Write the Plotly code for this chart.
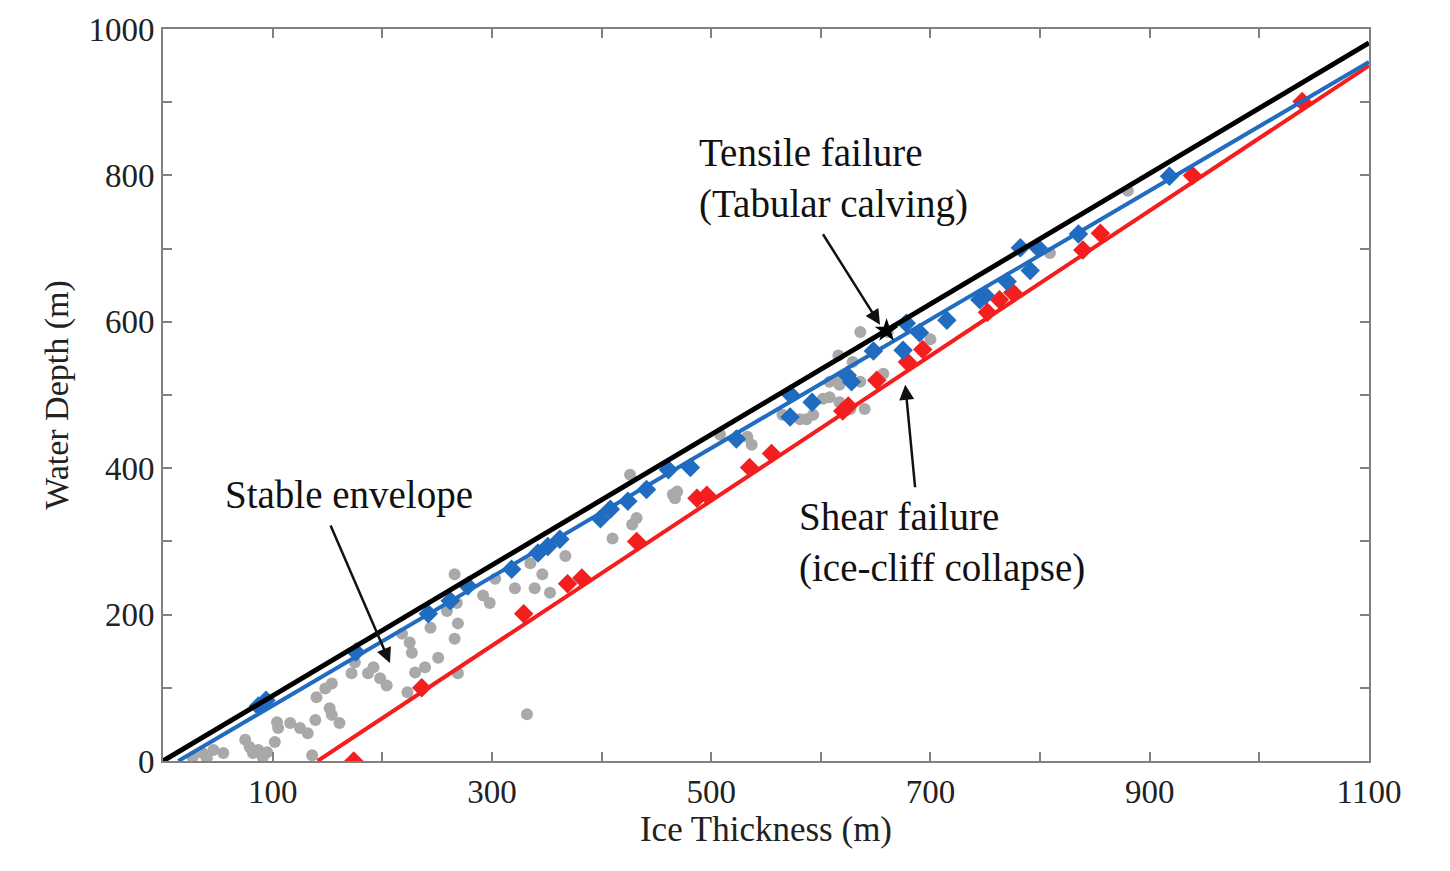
import plotly.graph_objects as go

# ---- data ----
black_x = [0, 1100]
black_y = [0, 981]

blue_line_x = [14, 1100]
blue_line_y = [0, 955]

red_line_x = [141, 1100]
red_line_y = [0, 950]

blue_x = [87, 94, 176, 242, 262, 278, 318, 342, 351, 362, 399, 408, 424, 441, 461, 481,
          523, 572, 572, 592, 624, 628, 648, 678, 675, 690, 715, 750, 745, 782, 798, 791,
          770, 835, 918]
blue_y = [75, 83, 149, 201, 219, 239, 262, 284, 293, 303, 331, 344, 355, 371, 398, 401,
          440, 501, 470, 490, 527, 518, 560, 598, 561, 585, 602, 636, 630, 701, 701, 670,
          655, 720, 799]

red_x = [174, 236, 329, 369, 382, 432, 487, 496, 535, 555, 620, 625, 651, 679, 693, 752,
         763, 775, 839, 855, 939, 1039]
red_y = [0, 100, 201, 242, 250, 300, 359, 363, 401, 420, 478, 485, 520, 545, 562, 613,
         630, 640, 698, 721, 800, 901]

gray_x = [266, 268, 259, 269, 244, 266, 218, 225, 227, 251, 239, 230, 269, 175, 192, 187,
          172, 198, 204, 223, 154, 148, 140, 152, 154, 161, 139, 104, 116, 105, 125, 132,
          75, 102, 79, 87, 95, 82, 55, 46, 36, 40, 136, 27, 91,
          303, 292, 298, 321, 339, 353, 346, 335, 367, 410, 428, 432, 465, 426, 332,
          469, 467, 537, 533, 581, 593, 565, 602, 608, 608, 617, 616, 617, 508,
          636, 629, 657, 587, 627, 640, 617, 636, 809, 880, 700, 661]
gray_y = [255, 216, 205, 188, 182, 167, 174, 162, 148, 141, 128, 121, 120, 135, 128, 120,
          120, 113, 103, 94, 106, 99, 87, 72, 63, 52, 56, 53, 52, 45, 45, 38,
          29, 26, 19, 15, 12, 11, 11, 15, 11, 4, 8, 5, 5,
          249, 226, 216, 236, 236, 230, 255, 270, 280, 304, 323, 332, 364, 391, 64,
          368, 359, 432, 443, 467, 473, 473, 495, 497, 518, 490, 554, 520, 446,
          586, 545, 529, 467, 481, 481, 514, 518, 694, 779, 576, 586]

star_x = [660]
star_y = [588]

x_tickvals = [0, 100, 200, 300, 400, 500, 600, 700, 800, 900, 1000, 1100]
x_ticktext = ["", "100", "", "300", "", "500", "", "700", "", "900", "", "1100"]
y_tickvals = [0, 100, 200, 300, 400, 500, 600, 700, 800, 900, 1000]
y_ticktext = ["0", "", "200", "", "400", "", "600", "", "800", "", "1000"]

FONT = "Liberation Serif"
BLUE = "#1f6cc0"
RED = "#f41e1e"

fig = go.Figure()

fig.add_trace(go.Scatter(x=gray_x, y=gray_y, mode="markers",
                         marker=dict(color="#a9a9a9", size=12), showlegend=False))
fig.add_trace(go.Scatter(x=red_line_x, y=red_line_y, mode="lines",
                         line=dict(color=RED, width=4), showlegend=False))
fig.add_trace(go.Scatter(x=red_x, y=red_y, mode="markers",
                         marker=dict(color=RED, size=15, symbol="diamond"), showlegend=False))
fig.add_trace(go.Scatter(x=blue_line_x, y=blue_line_y, mode="lines",
                         line=dict(color=BLUE, width=4), showlegend=False))
fig.add_trace(go.Scatter(x=blue_x, y=blue_y, mode="markers",
                         marker=dict(color=BLUE, size=15, symbol="diamond"), showlegend=False))
fig.add_trace(go.Scatter(x=black_x, y=black_y, mode="lines",
                         line=dict(color="black", width=5), showlegend=False))
fig.add_trace(go.Scatter(x=star_x, y=star_y, mode="markers",
                         marker=dict(color="black", size=18, symbol="star"), showlegend=False))

text_font = dict(family=FONT, size=39, color="#111")
fig.add_annotation(x=487, y=796, xref="x", yref="y", text="Tensile failure<br>(Tabular calving)",
                   showarrow=False, xanchor="left", yanchor="middle", align="left", font=text_font)
fig.add_annotation(x=55, y=363, xref="x", yref="y", text="Stable envelope",
                   showarrow=False, xanchor="left", yanchor="middle", align="left", font=text_font)
fig.add_annotation(x=578, y=299, xref="x", yref="y", text="Shear failure<br>(ice-cliff collapse)",
                   showarrow=False, xanchor="left", yanchor="middle", align="left", font=text_font)

arrow_kw = dict(xref="x", yref="y", text="", showarrow=True, arrowhead=2, arrowsize=1.2,
                arrowwidth=2.5, arrowcolor="#111")
fig.add_annotation(x=654, y=596, ax=-58, ay=-92, **arrow_kw)
fig.add_annotation(x=207, y=134, ax=-60, ay=-139, **arrow_kw)
fig.add_annotation(x=677, y=514, ax=10, ay=104, **arrow_kw)

axis_common = dict(showline=True, linecolor="#808080", linewidth=2, mirror="ticks",
                   ticks="inside", ticklen=9, tickwidth=2, tickcolor="#808080",
                   showgrid=False, zeroline=False,
                   tickfont=dict(family=FONT, size=33, color="#222"))

fig.update_xaxes(range=[0, 1100], tickvals=x_tickvals, ticktext=x_ticktext,
                 title=dict(text="Ice Thickness (m)", font=dict(family=FONT, size=35, color="#222"),
                            standoff=8),
                 **axis_common)
fig.update_yaxes(range=[0, 1000], tickvals=y_tickvals, ticktext=y_ticktext,
                 title=dict(text="Water Depth (m)", font=dict(family=FONT, size=34, color="#222"),
                            standoff=10),
                 **axis_common)

fig.update_layout(width=1450, height=871, plot_bgcolor="white", paper_bgcolor="white",
                  margin=dict(l=163, r=81, t=25, b=110), showlegend=False)

fig.write_html("out.html")
